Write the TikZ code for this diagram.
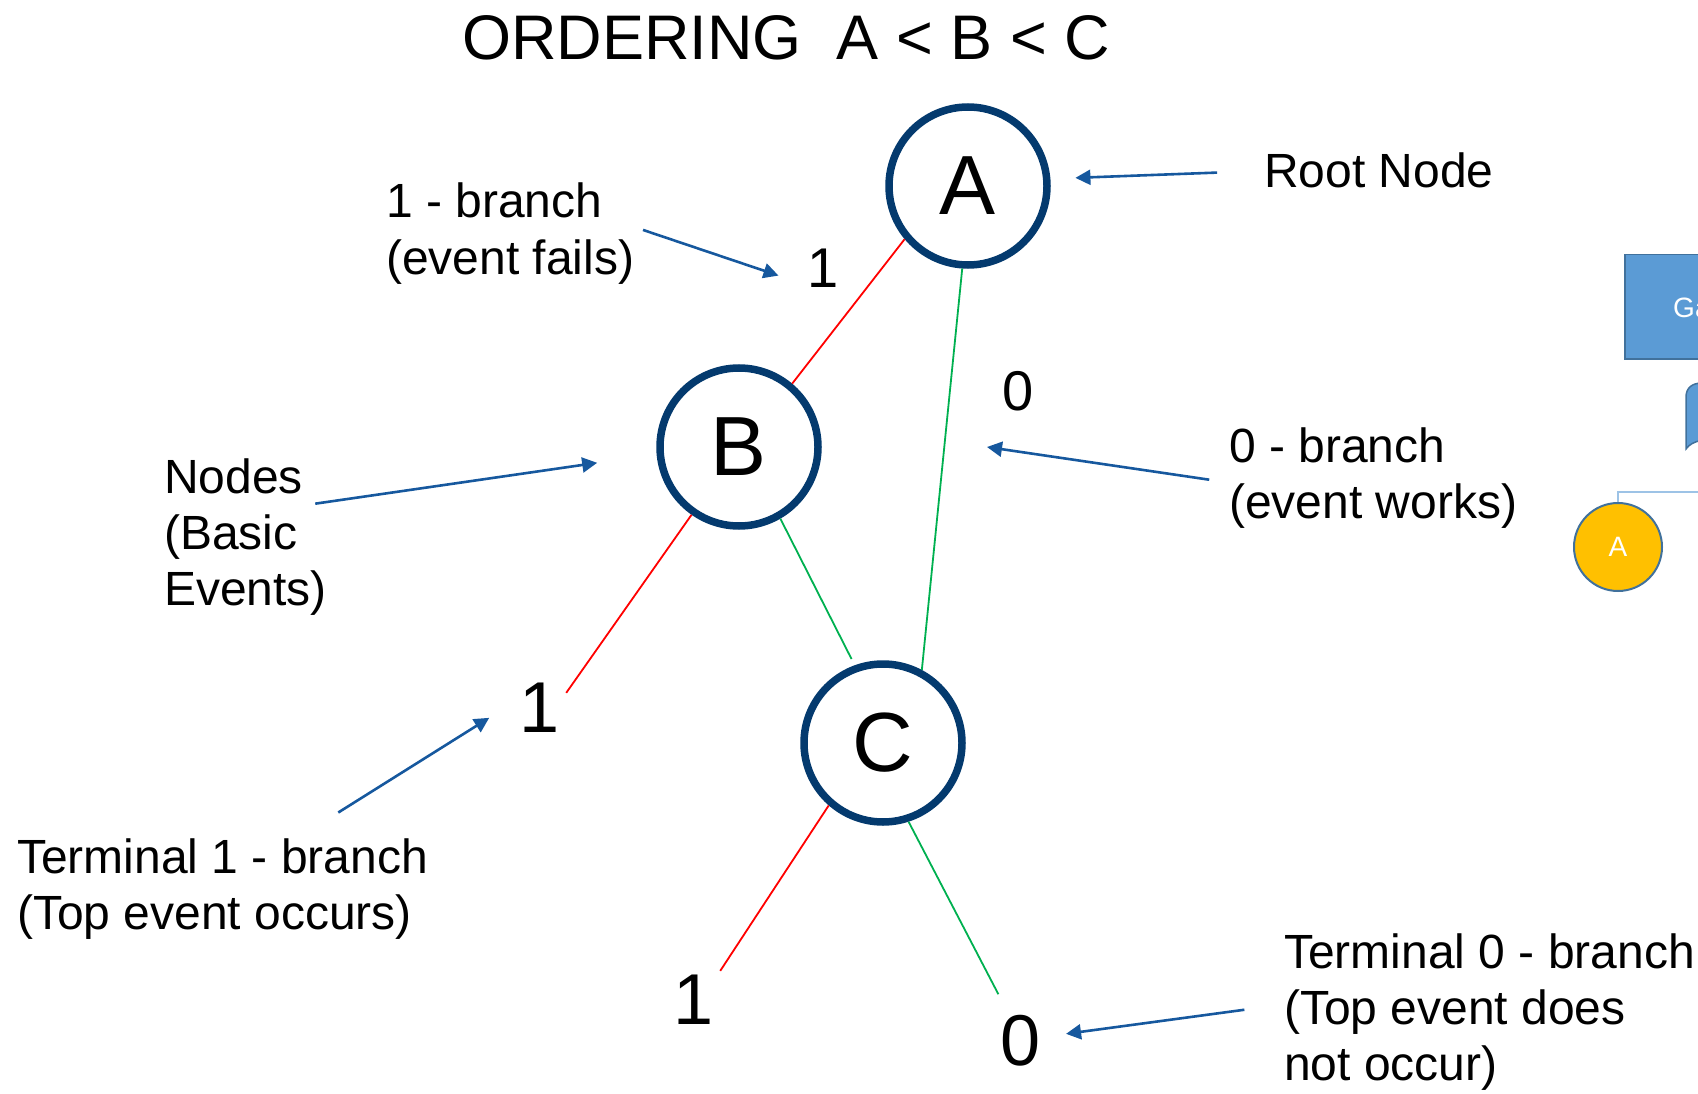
\documentclass[tikz,border=0pt]{standalone}
\usepackage{fontspec}
\setmainfont{Liberation Sans}
\usetikzlibrary{positioning, arrows.meta}

\definecolor{nodeblue}{RGB}{4,58,110}
\definecolor{arrowblue}{RGB}{22,88,158}
\definecolor{onered}{RGB}{255,0,0}
\definecolor{zerogreen}{RGB}{0,176,80}
\definecolor{gatefill}{RGB}{91,155,213}
\definecolor{gateedge}{RGB}{65,113,156}
\definecolor{feedline}{RGB}{157,195,230}
\definecolor{eventgold}{RGB}{255,192,0}

\begin{document}
\begin{tikzpicture}[
    x=1pt, y=-1pt,
    event/.style={circle, draw=nodeblue, line width=7.5pt, minimum size=158pt, inner sep=0pt, font=\fontsize{84}{84}\selectfont},
    note/.style={anchor=base west, align=left, inner sep=0pt, font=\fontsize{48}{56}\selectfont},
    edgelbl/.style={inner sep=6pt, font=\fontsize{56}{56}\selectfont},
    termlbl/.style={inner sep=6pt, font=\fontsize{72}{72}\selectfont},
    onebranch/.style={draw=onered, line width=1.8pt},
    zerobranch/.style={draw=zerogreen, line width=1.8pt},
    pointer/.style={draw=arrowblue, line width=2.6pt, -{Triangle[length=15pt, width=15pt]}}
]
    \useasboundingbox (0,0) rectangle (1698,1094);

    % === Title ===
    \node[anchor=base west, inner sep=0pt, font=\fontsize{63}{63}\selectfont] (title) at (462,60) {ORDERING\ \ A < B < C};

    % === Decision nodes ===
    \node[event] (A) at (968,186) {A};
    \node[event] (B) at (739,447) {B};
    \node[event] (C) at (883,743) {C};

    % Branch values
    \node[edgelbl] (oneA) at (823,268) {1};
    \node[edgelbl] (zeroA) at (1018,391) {0};
    \node[termlbl] (oneB) at (540,708) {1};
    \node[termlbl] (oneC) at (694,1000) {1};
    \node[termlbl] (zeroC) at (1021,1041) {0};

    % Branches (red = 1, green = 0)
    \draw[onebranch] (A.220) -- (B.50);
    \draw[zerobranch] (A.266) -- (C.62);
    \draw[onebranch] (B.235) -- (oneB.30);
    \draw[zerobranch, shorten >=7pt] (B.300) -- (C.110);
    \draw[onebranch] (C.229) -- (oneC.48);
    \draw[zerobranch, shorten >=17pt] (C.288) -- (zeroC.115);

    % === Annotations (anchored on the last line) ===
    \node[note] (roottxt) at (1264,188) {Root Node};
    \node[note] (failtxt) at (386,274) {1 - branch\\(event fails)};
    \node[note] (nodestxt) at (164,605) {Nodes\\(Basic\\Events)};
    \node[note] (workstxt) at (1229,518) {0 - branch\\(event works)};
    \node[note] (term1txt) at (17,929) {Terminal 1 - branch\\(Top event occurs)};
    \node[note] (term0txt) at (1284,1080) {Terminal 0 - branch\\(Top event does\\not occur)};
    \coordinate (worksTip) at (987,447);

    \draw[pointer, shorten <=47pt, shorten >=25pt] (roottxt.west) -- (A.5);
    \draw[pointer, shorten <=9pt, shorten >=24pt] (failtxt.3) -- (oneA.215);
    \draw[pointer, shorten <=-12pt, shorten >=60pt] (nodestxt.23) -- (B.185);
    \draw[pointer, shorten <=20pt] (workstxt.182) -- (worksTip);
    \draw[pointer, shorten <=48pt, shorten >=29pt] (term1txt.34) -- (oneB.168);
    \draw[pointer, shorten <=40pt, shorten >=19pt] (term0txt.178) -- (zeroC.10);

    % === Fault tree fragment at the edge ===
    \begin{scope}
        \clip (0,0) rectangle (1698,1094);
        \node[draw=gateedge, fill=gatefill, line width=1.5pt, minimum width=140pt, minimum height=104pt, inner sep=0pt, anchor=north west] (gate) at (1624,254) {};
        \node[anchor=base west, inner sep=0pt, text=white, font=\fontsize{28}{28}\selectfont] (gatetxt) at (1673,317) {Ga};
        \filldraw[fill=gatefill, draw=gateedge, line width=1.5pt] (1686,449) -- (1686,397) .. controls (1686,388) and (1692,383) .. (1702,383) -- (1720,383) -- (1720,441) .. controls (1708,438) and (1692,440) .. cycle;
        \node[circle, fill=eventgold, draw=gateedge, line width=2pt, minimum size=88pt, inner sep=0pt, text=white, font=\fontsize{28}{28}\selectfont] (evtA) at (1618,547) {A};
        \coordinate (feedEnd) at (1700,492);
        \draw[feedline, line width=1.5pt] (evtA.north) |- (feedEnd);
    \end{scope}
\end{tikzpicture}
\end{document}
